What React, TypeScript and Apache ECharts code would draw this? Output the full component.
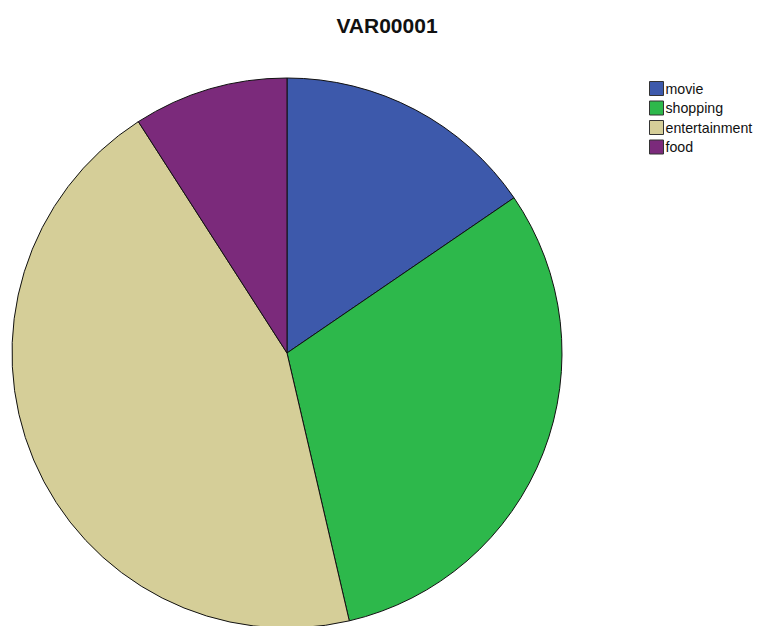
import React, { useEffect, useRef } from "react";
import * as echarts from "echarts";

const categories = ["movie", "shopping", "entertainment", "food"];
const values = [17, 34, 49, 10];
const colors = ["#3d59ab", "#2db84b", "#d5ce98", "#7b2a7b"];

export default function App() {
  const ref = useRef<HTMLDivElement>(null);
  useEffect(() => {
    if (!ref.current) return;
    const chart = echarts.init(ref.current, null, { renderer: "svg" });
    chart.setOption({
      animation: false,
      backgroundColor: "#ffffff",
      title: {
        text: "VAR00001",
        left: 382,
        textAlign: "center",
        top: 10,
        textStyle: { fontFamily: "Liberation Sans, Arial, sans-serif", fontWeight: "bold", fontSize: 21, color: "#111" },
      },
      legend: {
        orient: "vertical",
        left: 644,
        top: 76,
        padding: [5, 0, 5, 5],
        itemWidth: 14,
        itemHeight: 14,
        itemGap: 4.5,
        icon: "rect",
        itemStyle: { borderColor: "#333", borderWidth: 1 },
        textStyle: { fontFamily: "Liberation Sans, Arial, sans-serif", fontSize: 14.2, lineHeight: 14, color: "#111", padding: [0, 0, 0, -3], overflow: "none" },
        data: categories,
      },
      series: [
        {
          type: "pie",
          center: [287, 353],
          radius: 275,
          startAngle: 90,
          clockwise: true,
          label: { show: false },
          labelLine: { show: false },
          emphasis: { disabled: true },
          itemStyle: { borderColor: "#111", borderWidth: 1 },
          data: categories.map((c, i) => ({ name: c, value: values[i], itemStyle: { color: colors[i] } })),
        },
      ],
    });
    return () => chart.dispose();
  }, []);
  return <div ref={ref} style={{ position: "absolute", left: 0, top: 0, width: 757, height: 626 }} />;
}
